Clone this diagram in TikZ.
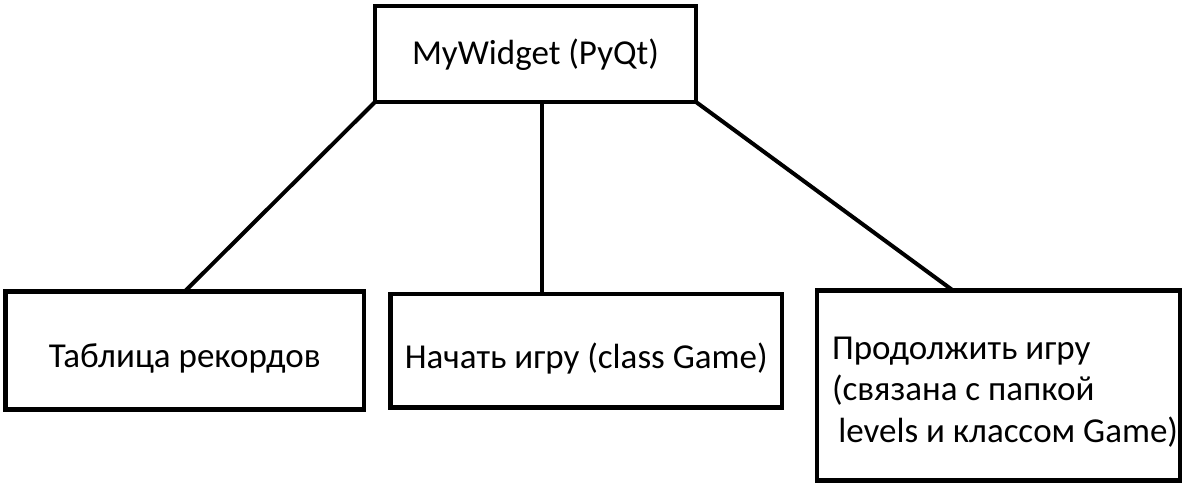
\documentclass[tikz,border=0pt]{standalone}
\usepackage{fontspec}
\setmainfont{Carlito}
\begin{document}
\begin{tikzpicture}[x=1pt,y=-1pt,
  block/.style={draw,line width=4.5pt,inner sep=0pt,outer sep=0pt,font=\fontsize{35}{41.5}\selectfont},
  link/.style={line width=4pt}]
  \useasboundingbox (0,0) rectangle (1188,494);
  % main window
  \node[block,minimum width=321pt,minimum height=96pt,text height=22pt,text depth=0pt] (widget) at (535.5,54) {MyWidget (PyQt)};
  % the three buttons under it
  \node[block,minimum width=358.5pt,minimum height=118pt,text height=33pt,text depth=0pt] (records) at (184.75,350.5) {Таблица рекордов};
  \node[block,minimum width=391.5pt,minimum height=113.5pt,text height=34.5pt,text depth=0pt] (newgame) at (586.25,350.75) {Начать игру (class Game)};
  \node[block,minimum width=363pt,minimum height=190pt,text width=333pt,align=flush left,text height=22pt,text depth=75pt] (resume) at (998.5,385.5) {Продолжить игру\\(связана с папкой\\\mbox{\hspace*{0.18em}levels и классом Game)}};
  % links from the window to the buttons
  \draw[link] (widget.south west) -- (records.north);
  \draw[link] ([xshift=6pt]widget.south) -- ([xshift=6pt]widget.south |- newgame.north);
  \draw[link] (widget.south east) -- ([xshift=-45.5pt]resume.north);
\end{tikzpicture}
\end{document}
